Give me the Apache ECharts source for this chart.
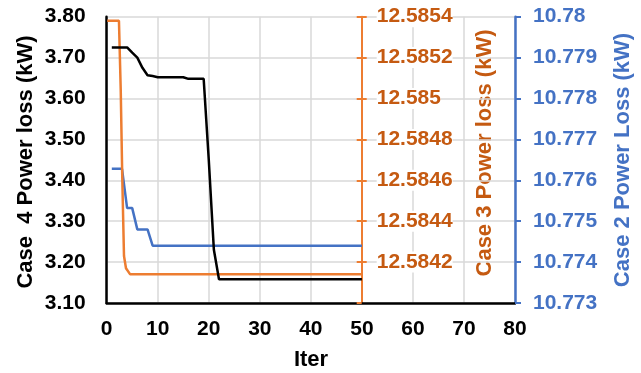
<!DOCTYPE html>
<html>
<head>
<meta charset="utf-8">
<script src="https://cdn.jsdelivr.net/npm/echarts@6/dist/echarts.min.js"></script>
<style>
html,body{margin:0;padding:0;background:#fff;}
#chart{width:641px;height:373px;}
</style>
</head>
<body>
<div id="chart"></div>
<script>
// ---- data ----
const iters = [];
for (let i = 1; i <= 50; i++) iters.push(i);

// Case 4 (black, left axis), iterations 1..50
const case4 = [
  3.725, 3.725, 3.725, 3.725, 3.712, 3.700, 3.675, 3.657, 3.655, 3.652,
  3.652, 3.652, 3.652, 3.652, 3.652, 3.648, 3.648, 3.648, 3.648, 3.450,
  3.230, 3.158, 3.158, 3.158, 3.158, 3.158, 3.158, 3.158, 3.158, 3.158,
  3.158, 3.158, 3.158, 3.158, 3.158, 3.158, 3.158, 3.158, 3.158, 3.158,
  3.158, 3.158, 3.158, 3.158, 3.158, 3.158, 3.158, 3.158, 3.158, 3.158
];

// Case 2 (blue, far right axis), iterations 1..50
const case2 = [
  10.77628, 10.77628, 10.77628, 10.77532, 10.77532, 10.7748, 10.7748, 10.7748, 10.7744, 10.7744,
  10.7744, 10.7744, 10.7744, 10.7744, 10.7744, 10.7744, 10.7744, 10.7744, 10.7744, 10.7744,
  10.7744, 10.7744, 10.7744, 10.7744, 10.7744, 10.7744, 10.7744, 10.7744, 10.7744, 10.7744,
  10.7744, 10.7744, 10.7744, 10.7744, 10.7744, 10.7744, 10.7744, 10.7744, 10.7744, 10.7744,
  10.7744, 10.7744, 10.7744, 10.7744, 10.7744, 10.7744, 10.7744, 10.7744, 10.7744, 10.7744
];

// Case 3 (orange, middle axis) read as [iter, value] points along its curve
const case3Iter = [0.1, 2.4, 2.75, 3.06, 3.39, 3.78, 4.6, 50];
const case3Val  = [12.58538, 12.58538, 12.58504, 12.58460, 12.58423, 12.58417, 12.58414, 12.58414];

// axis tick settings
const xTicks = [0, 10, 20, 30, 40, 50, 60, 70, 80];
const leftTicks = [3.10, 3.20, 3.30, 3.40, 3.50, 3.60, 3.70, 3.80];
const case3Ticks = [12.5840, 12.5842, 12.5844, 12.5846, 12.5848, 12.5850, 12.5852, 12.5854];
const case2Ticks = [10.773, 10.774, 10.775, 10.776, 10.777, 10.778, 10.779, 10.780];

// ---- chart ----
const FONT = '"Liberation Sans", Arial, sans-serif';
const BLACK = '#000000', BLUE = '#4472C4', ORANGE = '#ED7D31', ORANGE_TXT = '#C55A11', GRID = '#D9D9D9';

const chart = echarts.init(document.getElementById('chart'), null, {renderer: 'canvas'});

function axisLabelStyle(color) {
  return {color: color, fontFamily: FONT, fontWeight: 'bold', fontSize: 21};
}

const option = {
  animation: false,
  backgroundColor: '#ffffff',
  grid: {left: 106.7, right: 126, top: 16.7, bottom: 70, containLabel: false},
  xAxis: {
    type: 'value',
    min: xTicks[0], max: xTicks[xTicks.length - 1], interval: xTicks[1] - xTicks[0],
    axisLine: {show: true, onZero: false, lineStyle: {color: BLACK, width: 2.5}},
    axisTick: {show: false},
    splitLine: {show: true, lineStyle: {color: GRID, width: 1.5}},
    axisLabel: Object.assign({margin: 16}, axisLabelStyle(BLACK))
  },
  yAxis: [
    {
      type: 'value', position: 'left',
      min: leftTicks[0], max: leftTicks[leftTicks.length - 1], interval: 0.1,
      axisLine: {show: true, onZero: false, lineStyle: {color: BLACK, width: 2.5}},
      axisTick: {show: false},
      splitLine: {show: true, lineStyle: {color: GRID, width: 1.5}},
      axisLabel: Object.assign({margin: 21, formatter: v => v.toFixed(2)}, axisLabelStyle(BLACK))
    },
    {
      type: 'value', position: 'right', offset: -153.3,
      min: case3Ticks[0], max: case3Ticks[case3Ticks.length - 1], interval: 0.0002,
      axisLine: {show: true, onZero: false, lineStyle: {color: ORANGE, width: 2}},
      axisTick: {show: true, inside: false, length: 5, lineStyle: {color: ORANGE, width: 2}},
      splitLine: {show: false},
      axisLabel: Object.assign({margin: 15, showMinLabel: false, backgroundColor: '#ffffff',
        formatter: v => String(parseFloat(v.toFixed(4)))}, axisLabelStyle(ORANGE_TXT))
    },
    {
      type: 'value', position: 'right', offset: -153.3,
      min: case3Ticks[0], max: case3Ticks[case3Ticks.length - 1], interval: 0.0002,
      axisLine: {show: false, onZero: false},
      axisTick: {show: true, inside: true, length: 5, lineStyle: {color: ORANGE, width: 2}},
      splitLine: {show: false},
      axisLabel: {show: false}
    },
    {
      type: 'value', position: 'right', offset: 0,
      min: case2Ticks[0], max: case2Ticks[case2Ticks.length - 1], interval: 0.001,
      axisLine: {show: true, onZero: false, lineStyle: {color: BLUE, width: 2.5}},
      axisTick: {show: true, inside: false, length: 6, lineStyle: {color: BLUE, width: 2}},
      splitLine: {show: false},
      axisLabel: Object.assign({margin: 18, formatter: v => String(parseFloat(v.toFixed(3)))}, axisLabelStyle(BLUE))
    }
  ],
  series: [
    {
      name: 'Case 2', type: 'line', yAxisIndex: 3, showSymbol: false, symbol: 'none',
      data: iters.map((x, i) => [x, case2[i]]),
      lineStyle: {color: BLUE, width: 2.5}
    },
    {
      name: 'Case 3', type: 'line', yAxisIndex: 1, showSymbol: false, symbol: 'none',
      data: case3Iter.map((x, i) => [x, case3Val[i]]),
      lineStyle: {color: ORANGE, width: 2.5}
    },
    {
      name: 'Case 4', type: 'line', yAxisIndex: 0, showSymbol: false, symbol: 'none',
      data: iters.map((x, i) => [x, case4[i]]),
      lineStyle: {color: BLACK, width: 2.5}
    }
  ],
  graphic: [
    {type: 'text', x: 26, y: 162, rotation: Math.PI / 2,
      style: {text: 'Case  4 Power loss (kW)', font: 'bold 22px ' + FONT, fill: BLACK, align: 'center', verticalAlign: 'middle'}},
    {type: 'text', x: 485, y: 153, rotation: Math.PI / 2,
      style: {text: 'Case 3 Power loss (kW)', font: 'bold 22px ' + FONT, fill: ORANGE_TXT, align: 'center', verticalAlign: 'middle'}},
    {type: 'text', x: 623, y: 160, rotation: Math.PI / 2,
      style: {text: 'Case 2 Power Loss (kW)', font: 'bold 22px ' + FONT, fill: BLUE, align: 'center', verticalAlign: 'middle'}},
    {type: 'text', x: 311, y: 360,
      style: {text: 'Iter', font: 'bold 22px ' + FONT, fill: BLACK, align: 'center', verticalAlign: 'middle'}}
  ]
};
chart.setOption(option);
</script>
</body>
</html>
